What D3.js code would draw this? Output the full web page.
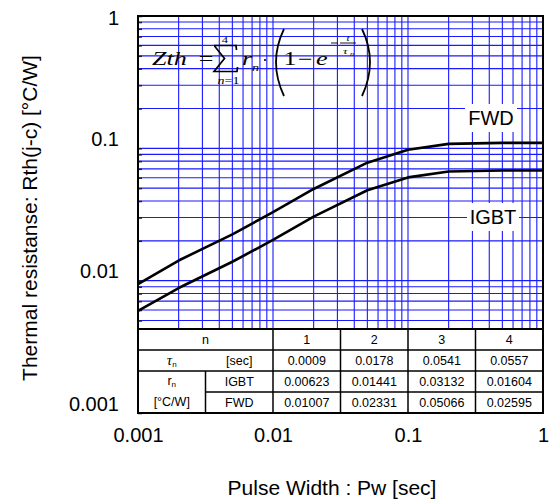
<!DOCTYPE html>
<html><head><meta charset="utf-8">
<script src="https://cdn.jsdelivr.net/npm/d3@7"></script>
<style>
html,body{margin:0;padding:0;background:#fff;}
svg{display:block;}
</style></head>
<body>
<svg id="chart" width="556" height="502"></svg>
<script>
// ---- data ----
const pulseWidth = [0.001, 0.002, 0.005, 0.01, 0.02, 0.05, 0.1, 0.2, 0.5, 1];
const zthIGBT = [0.0059, 0.0088, 0.0139, 0.0203, 0.0305, 0.0482, 0.0603, 0.0668, 0.0680, 0.0680];
const zthFWD  = [0.0094, 0.0142, 0.0224, 0.0329, 0.0493, 0.0779, 0.0976, 0.1080, 0.1100, 0.1100];
const xTickValues = [0.001, 0.01, 0.1, 1];
const xTickLabels = ["0.001", "0.01", "0.1", "1"];
const yTickValues = [0.001, 0.01, 0.1, 1];
const yTickLabels = ["0.001", "0.01", "0.1", "1"];
const nLabels = ["1", "2", "3", "4"];
const tauValues = ["0.0009", "0.0178", "0.0541", "0.0557"];
const rIGBT = ["0.00623", "0.01441", "0.03132", "0.01604"];
const rFWD = ["0.01007", "0.02331", "0.05066", "0.02595"];
const seriesNames = ["FWD", "IGBT"];

// ---- layout ----
const L = 138, R = 543, T = 16, B = 413;
const tableTop = 329;
const SANS = "'Liberation Sans', Arial, Helvetica, sans-serif";
const SERIF = "'Liberation Serif', 'Times New Roman', serif";

const svg = d3.select("#chart");
svg.append("rect").attr("width", 556).attr("height", 502).attr("fill", "#fff");

const x = d3.scaleLog().domain([0.001, 1]).range([L, R]);
const y = d3.scaleLog().domain([0.001, 1]).range([B, T]);

// ---- grid ----
const grid = svg.append("g").attr("stroke", "#1a1aff").attr("stroke-width", 1.1);
x.ticks().forEach(v => {
  grid.append("line").attr("x1", x(v)).attr("x2", x(v)).attr("y1", T).attr("y2", B);
});
y.ticks().forEach(v => {
  grid.append("line").attr("x1", L).attr("x2", R).attr("y1", y(v)).attr("y2", y(v));
});

// inward ticks on left axis
const leftTicks = svg.append("g").attr("transform", `translate(${L},0)`)
  .call(d3.axisLeft(y).tickValues(y.ticks()).tickSize(-4).tickFormat(""));
leftTicks.select(".domain").remove();
leftTicks.selectAll("line").attr("stroke", "#222").attr("stroke-width", 1.5);

// ---- tick labels ----
const xAxis = svg.append("g").attr("transform", `translate(0,${B})`)
  .call(d3.axisBottom(x).tickValues(xTickValues).tickSize(0)
    .tickFormat((d, i) => xTickLabels[i]));
xAxis.select(".domain").remove();
xAxis.selectAll("text").attr("font-family", SANS).attr("font-size", 20)
  .attr("fill", "#000").attr("y", 29).attr("dy", 0);

const yAxis = svg.append("g").attr("transform", `translate(${L},0)`)
  .call(d3.axisLeft(y).tickValues(yTickValues).tickSize(0)
    .tickFormat((d, i) => yTickLabels[i]));
yAxis.select(".domain").remove();
yAxis.selectAll("text").attr("font-family", SANS).attr("font-size", 20)
  .attr("fill", "#000").attr("x", -19).attr("dy", d => d === 1 ? 8 : -3);

// ---- axis titles ----
svg.append("text").attr("x", 332).attr("y", 495).attr("text-anchor", "middle")
  .attr("font-family", SANS).attr("font-size", 21).text("Pulse Width : Pw [sec]");
svg.append("text").attr("transform", "translate(37,218) rotate(-90)")
  .attr("text-anchor", "middle").attr("font-family", SANS).attr("font-size", 21)
  .text("Thermal resistanse: Rth(j-c) [°C/W]");

// ---- series labels with white boxes ----
const labelPos = [{cx: 491, by: 125}, {cx: 493, by: 224}];
seriesNames.forEach((name, i) => {
  const p = labelPos[i];
  svg.append("rect").attr("x", p.cx - 26).attr("y", p.by - 21).attr("width", 52).attr("height", 28)
    .attr("fill", "#fff");
  svg.append("text").attr("x", p.cx).attr("y", p.by).attr("text-anchor", "middle")
    .attr("font-family", SANS).attr("font-size", 20).text(name);
});

// ---- curves ----
const line = d3.line().x(d => x(d[0])).y(d => y(d[1]));
[zthFWD, zthIGBT].forEach(s => {
  svg.append("path").datum(pulseWidth.map((t, i) => [t, s[i]]))
    .attr("d", line).attr("fill", "none").attr("stroke", "#000").attr("stroke-width", 2.6)
    .attr("stroke-linejoin", "round");
});

// ---- formula (horizontally stretched like the original) ----
const f = svg.append("g").attr("font-family", SERIF).attr("fill", "#000");
function ft(txt, px, py, size, opts = {}) {
  const sx = opts.sx || 1.45;
  const t = f.append("text").attr("transform", `translate(${px},${py}) scale(${sx},1)`)
    .attr("font-size", size).attr("text-anchor", opts.anchor || "start");
  if (opts.italic) t.attr("font-style", "italic");
  t.text(txt);
  return t;
}
ft("Zth", 152, 65, 18, {italic: true, sx: 1.45});
ft("=", 206, 65, 18, {anchor: "middle"});
// summation sign
f.append("path")
  .attr("d", "M214,45.5 L236,45.5 L236.5,50 M214.5,46 L224.5,58.5 L214,71.5 L237,71.5 L237.5,67")
  .attr("fill", "none").attr("stroke", "#000").attr("stroke-width", 1.7).attr("stroke-linejoin", "miter");
ft("4", 225, 43, 9, {anchor: "middle", sx: 1.4});
const nEq = f.append("text").attr("transform", "translate(228.5,84) scale(1.4,1)")
  .attr("font-size", 10).attr("text-anchor", "middle");
nEq.append("tspan").attr("font-style", "italic").text("n");
nEq.append("tspan").text("=1");
ft("r", 242, 65, 18, {italic: true});
ft("n", 252, 71, 10, {italic: true, sx: 1.4});
f.append("circle").attr("cx", 265).attr("cy", 60).attr("r", 1.1);
f.append("path").attr("d", "M284,29 Q268,62 284,96").attr("fill", "none").attr("stroke", "#000").attr("stroke-width", 1.8);
ft("1", 290, 65, 18, {anchor: "middle"});
ft("−", 305, 65, 18, {anchor: "middle"});
ft("e", 316, 65, 18, {italic: true});
f.append("line").attr("x1", 331).attr("x2", 338).attr("y1", 43).attr("y2", 43).attr("stroke", "#000").attr("stroke-width", 0.9);
f.append("line").attr("x1", 340).attr("x2", 356).attr("y1", 43).attr("y2", 43).attr("stroke", "#000").attr("stroke-width", 0.9);
ft("t", 348, 41, 8, {italic: true, anchor: "middle", sx: 1.4});
ft("τ", 343, 54, 9, {italic: true, sx: 1.4});
ft("n", 350, 56, 6, {italic: true, sx: 1.4});
f.append("path").attr("d", "M362,29 Q378,62 362,96").attr("fill", "none").attr("stroke", "#000").attr("stroke-width", 1.8);

// ---- table ----
const colVals = [0.001, Math.sqrt(0.001 * 0.01), 0.01, Math.sqrt(0.01 * 0.1), 0.1, Math.sqrt(0.1 * 1), 1];
const cx = colVals.map(v => x(v));
const rowH = (B - tableTop) / 4;
const rowY = [0, 1, 2, 3, 4].map(i => tableTop + i * rowH);
const tbl = svg.append("g");
tbl.append("rect").attr("x", L).attr("y", tableTop).attr("width", R - L).attr("height", B - tableTop).attr("fill", "#fff");
const tl = tbl.append("g").attr("stroke", "#000").attr("stroke-width", 1.5);
[1, 2, 3].forEach(i => tl.append("line").attr("x1", i === 3 ? cx[1] : L).attr("x2", R).attr("y1", rowY[i]).attr("y2", rowY[i]));
[2, 3, 4, 5].forEach(i => tl.append("line").attr("x1", cx[i]).attr("x2", cx[i]).attr("y1", tableTop).attr("y2", B));
tl.append("line").attr("x1", cx[1]).attr("x2", cx[1]).attr("y1", rowY[2]).attr("y2", B);
tbl.append("line").attr("x1", L).attr("x2", R).attr("y1", tableTop).attr("y2", tableTop).attr("stroke", "#000").attr("stroke-width", 2);

const TF = 12.5;
function cell(txt, xc, row) {
  return tbl.append("text").attr("x", xc).attr("y", (rowY[row] + rowY[row + 1]) / 2 + 4.5)
    .attr("text-anchor", "middle").attr("font-family", SANS).attr("font-size", TF).text(txt);
}
cell("n", (cx[0] + cx[2]) / 2, 0);
nLabels.forEach((t, i) => cell(t, (cx[i + 2] + cx[i + 3]) / 2, 0));
const tauCell = tbl.append("text").attr("x", (cx[0] + cx[1]) / 2).attr("y", (rowY[1] + rowY[2]) / 2 + 4.5)
  .attr("text-anchor", "middle").attr("font-size", TF);
tauCell.append("tspan").attr("font-family", SERIF).attr("font-style", "italic").attr("font-size", 15).text("τ");
tauCell.append("tspan").attr("font-family", SANS).attr("font-size", 8).attr("dy", 2).text("n");
cell("[sec]", (cx[1] + cx[2]) / 2, 1);
tauValues.forEach((t, i) => cell(t, (cx[i + 2] + cx[i + 3]) / 2, 1));
const rCell = tbl.append("text").attr("x", (cx[0] + cx[1]) / 2).attr("y", (rowY[2] + rowY[3]) / 2 + 3)
  .attr("text-anchor", "middle").attr("font-family", SANS).attr("font-size", TF);
rCell.append("tspan").text("r");
rCell.append("tspan").attr("font-size", 8).attr("dy", 2).text("n");
tbl.append("text").attr("x", (cx[0] + cx[1]) / 2).attr("y", (rowY[3] + rowY[4]) / 2 + 3)
  .attr("text-anchor", "middle").attr("font-family", SANS).attr("font-size", TF).text("[°C/W]");
cell("IGBT", (cx[1] + cx[2]) / 2, 2);
cell("FWD", (cx[1] + cx[2]) / 2, 3);
rIGBT.forEach((t, i) => cell(t, (cx[i + 2] + cx[i + 3]) / 2, 2));
rFWD.forEach((t, i) => cell(t, (cx[i + 2] + cx[i + 3]) / 2, 3));

// ---- frame ----
svg.append("rect").attr("x", L).attr("y", T).attr("width", R - L).attr("height", B - T)
  .attr("fill", "none").attr("stroke", "#000").attr("stroke-width", 2);
</script>
</body></html>
